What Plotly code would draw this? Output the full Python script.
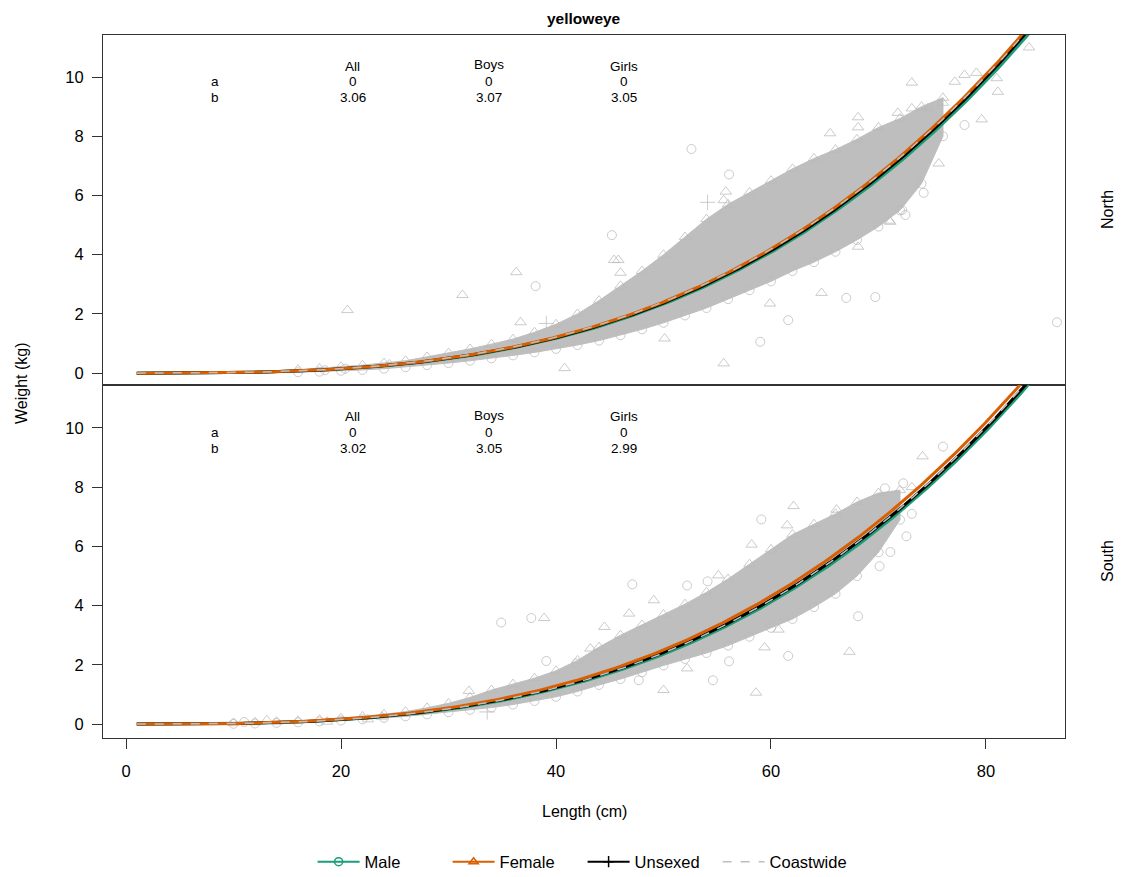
import numpy as np
import plotly.graph_objects as go
from plotly.subplots import make_subplots

# ---- fitted length-weight parameters, W = a * L^b ----
regions = ["North", "South"]
a_all = [1.499e-5, 1.788e-5]
b_all = [3.06, 3.02]
a_boys = [1.418e-5, 1.552e-5]
b_boys = [3.07, 3.05]
a_girls = [1.581e-5, 2.081e-5]
b_girls = [3.05, 2.99]
a_coast = 1.644e-5
b_coast = 3.04

# ---- dense core of the observations (upper / lower envelope, kg) ----
north_len = [16, 18, 20, 22, 24, 26, 28, 30, 32, 34, 36, 38, 40, 42, 44, 46,
             48, 50, 52, 54, 56, 58, 60, 62, 64, 66, 68, 70, 72, 74, 76]
north_hi = [0.12, 0.16, 0.22, 0.27, 0.34, 0.42, 0.55, 0.68, 0.82, 0.98, 1.15,
            1.38, 1.65, 2.0, 2.45, 2.95, 3.45, 4.0, 4.6, 5.2, 5.7, 6.1, 6.5,
            6.9, 7.25, 7.55, 7.9, 8.3, 8.6, 9.0, 9.3]
north_lo = [0.03, 0.05, 0.08, 0.11, 0.15, 0.2, 0.27, 0.34, 0.42, 0.5, 0.6,
            0.7, 0.82, 0.95, 1.1, 1.28, 1.48, 1.7, 1.95, 2.2, 2.5, 2.8, 3.1,
            3.45, 3.75, 4.1, 4.5, 4.95, 5.5, 6.4, 8.0]

south_len = [10, 12, 14, 16, 18, 20, 22, 24, 26, 28, 30, 32, 34, 36, 38, 40,
             42, 44, 46, 48, 50, 52, 54, 56, 58, 60, 62, 64, 66, 68, 70, 72]
south_hi = [0.04, 0.06, 0.08, 0.11, 0.15, 0.2, 0.26, 0.33, 0.42, 0.55, 0.7,
            0.9, 1.15, 1.35, 1.55, 1.8, 2.15, 2.6, 3.0, 3.35, 3.7, 4.05, 4.45,
            4.9, 5.4, 5.9, 6.4, 6.75, 7.1, 7.5, 7.8, 7.9]
south_lo = [0.01, 0.02, 0.04, 0.06, 0.09, 0.12, 0.16, 0.21, 0.26, 0.33, 0.4,
            0.48, 0.56, 0.66, 0.78, 0.92, 1.1, 1.32, 1.52, 1.75, 1.98, 2.2,
            2.4, 2.65, 2.95, 3.25, 3.55, 3.95, 4.4, 5.0, 5.8, 6.9]

# ---- scattered individual fish outside the dense core (length cm, weight kg) ----
north_male_len = [18.5, 20.4, 38.1, 45.2, 52.6, 56.1, 59.0, 61.6, 67.0, 78.0,
                  74.2, 72.5, 72.2, 86.6, 69.7]
north_male_wt = [0.10, 0.15, 2.94, 4.66, 7.57, 6.71, 1.06, 1.79, 2.54, 8.38,
                 6.09, 5.34, 5.51, 1.72, 2.57]
north_fem_len = [20.6, 31.3, 36.3, 36.7, 40.8, 45.4, 45.8, 46.0, 55.8, 55.6,
                 55.6, 50.1, 65.5, 71.1, 68.1, 64.7, 59.9, 84.0, 73.1, 77.1,
                 78.0, 79.1, 81.0, 81.1, 79.6, 68.1, 68.1, 71.8, 73.1, 74.6,
                 76.0, 75.6, 71.0, 24.5]
north_fem_wt = [2.13, 2.64, 3.41, 1.72, 0.17, 3.82, 3.82, 3.39, 6.13, 5.84,
                0.33, 1.17, 8.10, 5.11, 4.27, 2.71, 2.35, 11.0, 9.81, 9.84,
                10.07, 10.14, 9.96, 9.5, 8.57, 8.64, 8.30, 8.79, 8.94, 8.94,
                9.13, 7.08, 5.15, 0.30]
north_unsex_len = [39.1, 54.1]
north_unsex_wt = [1.68, 5.77]

south_male_len = [11.0, 34.9, 37.7, 39.1, 41.9, 47.1, 52.2, 54.1, 59.1, 54.6,
                  61.6, 56.1, 47.7, 76.0, 72.3, 70.6, 72.6, 73.1, 71.1, 70.1,
                  68.1]
south_male_wt = [0.07, 3.43, 3.58, 2.13, 2.05, 4.72, 4.68, 4.82, 6.91, 1.48,
                 2.30, 2.12, 1.48, 9.37, 8.13, 7.96, 6.34, 7.10, 5.81, 5.33,
                 3.64]
south_fem_len = [13.1, 18.7, 22.5, 23.8, 31.9, 38.9, 49.1, 46.8, 44.5, 43.2,
                 55.1, 62.1, 61.5, 50.0, 52.2, 58.6, 58.2, 74.1, 73.1, 66.1,
                 67.3, 59.4, 60.7]
south_fem_wt = [0.13, 0.08, 0.16, 0.25, 1.12, 3.58, 4.18, 3.73, 3.28, 2.55,
                5.02, 7.36, 6.71, 1.15, 1.88, 1.06, 6.06, 9.04, 8.00, 7.24,
                2.44, 2.59, 3.19]
south_unsex_len = [33.6]
south_unsex_wt = [0.41]

x_ticks = [0, 20, 40, 60, 80]
y_ticks = [0, 2, 4, 6, 8, 10]

MALE = "#1B9E77"
FEMALE = "#D95F02"
UNSEXED = "#000000"
COAST = "#BEBEBE"
PT = "rgba(185,185,185,0.75)"
CORE = "#BEBEBE"
FONT = "Liberation Sans, Arial, Helvetica, sans-serif"

fig = make_subplots(rows=2, cols=1, shared_xaxes=False, vertical_spacing=0)

panels = [
    dict(lens=north_len, hi=north_hi, lo=north_lo,
         m=(north_male_len, north_male_wt), f=(north_fem_len, north_fem_wt),
         u=(north_unsex_len, north_unsex_wt)),
    dict(lens=south_len, hi=south_hi, lo=south_lo,
         m=(south_male_len, south_male_wt), f=(south_fem_len, south_fem_wt),
         u=(south_unsex_len, south_unsex_wt)),
]

grid = np.linspace(1, 90, 300)

for i, p in enumerate(panels):
    row = i + 1
    # dense core of points
    fig.add_trace(go.Scatter(
        x=list(p["lens"]) + list(p["lens"])[::-1],
        y=list(p["hi"]) + list(p["lo"])[::-1],
        fill="toself", fillcolor=CORE, mode="lines",
        line=dict(color=CORE, width=1), hoverinfo="skip", showlegend=False),
        row=row, col=1)
    # ragged edges of the core
    fig.add_trace(go.Scatter(
        x=p["lens"], y=p["hi"], mode="markers",
        marker=dict(symbol="triangle-up-open", size=10, color=PT,
                    line=dict(width=1, color=PT)),
        hoverinfo="skip", showlegend=False), row=row, col=1)
    fig.add_trace(go.Scatter(
        x=p["lens"], y=p["lo"], mode="markers",
        marker=dict(symbol="circle-open", size=9, color=PT,
                    line=dict(width=1, color=PT)),
        hoverinfo="skip", showlegend=False), row=row, col=1)
    # individual fish
    fig.add_trace(go.Scatter(
        x=p["m"][0], y=p["m"][1], mode="markers",
        marker=dict(symbol="circle-open", size=9, color=PT,
                    line=dict(width=1, color=PT)),
        showlegend=False), row=row, col=1)
    fig.add_trace(go.Scatter(
        x=p["f"][0], y=p["f"][1], mode="markers",
        marker=dict(symbol="triangle-up-open", size=10, color=PT,
                    line=dict(width=1, color=PT)),
        showlegend=False), row=row, col=1)
    fig.add_trace(go.Scatter(
        x=p["u"][0], y=p["u"][1], mode="markers",
        marker=dict(symbol="cross-thin-open", size=11, color=PT,
                    line=dict(width=1, color=PT)),
        showlegend=False), row=row, col=1)

    # fitted curves
    fig.add_trace(go.Scatter(
        x=grid, y=a_boys[i] * grid ** b_boys[i], mode="lines",
        line=dict(color=MALE, width=3), showlegend=False), row=row, col=1)
    fig.add_trace(go.Scatter(
        x=grid, y=a_all[i] * grid ** b_all[i], mode="lines",
        line=dict(color=UNSEXED, width=3), showlegend=False), row=row, col=1)
    fig.add_trace(go.Scatter(
        x=grid, y=a_girls[i] * grid ** b_girls[i], mode="lines",
        line=dict(color=FEMALE, width=3), showlegend=False), row=row, col=1)
    fig.add_trace(go.Scatter(
        x=grid, y=a_coast * grid ** b_coast, mode="lines",
        line=dict(color=COAST, width=1.5, dash="dash"), showlegend=False),
        row=row, col=1)

    # parameter table
    xr = "x" if row == 1 else "x2"
    yr = "y" if row == 1 else "y2"
    cols = [(21.1, "All", a_all[i], b_all[i]),
            (33.8, "Boys", a_boys[i], b_boys[i]),
            (46.3, "Girls", a_girls[i], b_girls[i])]
    txt = dict(family=FONT, size=13.5, color="#000")
    for lx, lab in [(9.86, "a"), (9.32, "b")]:
        fig.add_annotation(x=8.3, y=lx, xref=xr, yref=yr, text=lab,
                           showarrow=False, font=txt)
    for cx, head, av, bv in cols:
        hy = 10.43 if head == "Boys" else 10.37
        fig.add_annotation(x=cx, y=hy, xref=xr, yref=yr, text=head,
                           showarrow=False, font=txt)
        fig.add_annotation(x=cx, y=9.86, xref=xr, yref=yr,
                           text=f"{round(av, 2):g}", showarrow=False, font=txt)
        fig.add_annotation(x=cx, y=9.32, xref=xr, yref=yr,
                           text=f"{bv:.2f}", showarrow=False, font=txt)

# legend entries
legend_items = [("Male", MALE, "circle-open", "solid", 2),
                ("Female", FEMALE, "triangle-up-open", "solid", 2),
                ("Unsexed", UNSEXED, "cross-thin-open", "solid", 2),
                ("Coastwide", COAST, "circle", "dash", 1.5)]
for name, col, sym, dash, w in legend_items:
    fig.add_trace(go.Scatter(
        x=[None], y=[None], name=name,
        mode="lines" if name == "Coastwide" else "lines+markers",
        line=dict(color=col, width=w, dash=dash),
        marker=dict(symbol=sym, size=8, color=col, line=dict(width=1.5, color=col)),
        showlegend=True), row=2, col=1)

axis_line = "#333333"
split = (738 - 385) / 703

common_y = dict(tickvals=y_ticks, ticks="outside", ticklen=10, tickcolor=axis_line,
                showline=True, mirror=True, linecolor=axis_line, linewidth=1,
                showgrid=False, zeroline=False, ticklabelstandoff=5,
                tickfont=dict(family=FONT, size=16.5, color="#000"))
common_x = dict(range=[-2.14, 87.35], showline=True, mirror=True,
                linecolor=axis_line, linewidth=1, showgrid=False, zeroline=False)

fig.update_layout(
    xaxis=dict(**common_x, domain=[0, 1], showticklabels=False, ticks=""),
    xaxis2=dict(**common_x, domain=[0, 1], tickvals=x_ticks, ticks="outside",
                ticklen=10, tickcolor=axis_line, ticklabelstandoff=8,
                tickfont=dict(family=FONT, size=16.5, color="#000")),
    yaxis=dict(**common_y, domain=[split, 1], range=[-0.4, 11.42]),
    yaxis2=dict(**common_y, domain=[0, split], range=[-0.47, 11.45]),
    width=1121, height=877,
    margin=dict(l=103, r=56, t=35, b=139, autoexpand=False),
    paper_bgcolor="white", plot_bgcolor="white",
    showlegend=True,
    legend=dict(orientation="h", xref="container", yref="container",
                x=312.6 / 1121, xanchor="left", y=1 - 862 / 877,
                yanchor="middle", itemwidth=42, entrywidth=78,
                entrywidthmode="pixels",
                font=dict(family=FONT, size=16.5, color="#000"),
                bgcolor="rgba(0,0,0,0)"),
    font=dict(family=FONT, color="#000"),
)

# titles and strip labels
fig.add_annotation(x=0.5, y=1, xref="paper", yref="paper", yshift=17,
                   yanchor="middle", text="<b>yelloweye</b>", showarrow=False,
                   font=dict(family=FONT, size=15.5, color="#000"))
fig.add_annotation(x=0.5, y=(738 - 811) / 703, xref="paper", yref="paper",
                   yanchor="middle", text="Length (cm)", showarrow=False,
                   font=dict(family=FONT, size=16, color="#000"))
fig.add_annotation(x=(22 - 103) / 962, y=(738 - 383) / 703, xref="paper", yref="paper",
                   xanchor="center", yanchor="middle",
                   text="Weight (kg)", textangle=-90, showarrow=False,
                   font=dict(family=FONT, size=16, color="#000"))
for name, yc in zip(regions, [(738 - 210) / 703, (738 - 561) / 703]):
    fig.add_annotation(x=(1107 - 103) / 962, y=yc, xref="paper", yref="paper",
                       xanchor="center", yanchor="middle",
                       text=name, textangle=-90, showarrow=False,
                       font=dict(family=FONT, size=16, color="#000"))

fig.write_html("out.html")
